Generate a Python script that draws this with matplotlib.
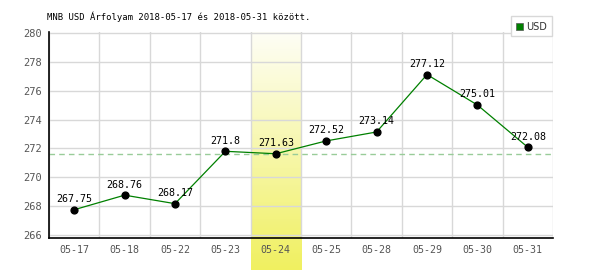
import matplotlib
matplotlib.use("Agg")
import matplotlib.pyplot as plt
import numpy as np
from matplotlib.colors import LinearSegmentedColormap
from matplotlib.patches import Rectangle

dates = ["05-17", "05-18", "05-22", "05-23", "05-24", "05-25", "05-28", "05-29", "05-30", "05-31"]
values = [267.75, 268.76, 268.17, 271.8, 271.63, 272.52, 273.14, 277.12, 275.01, 272.08]
labels = ["267.75", "268.76", "268.17", "271.8", "271.63", "272.52", "273.14", "277.12", "275.01", "272.08"]
yticks = [266, 268, 270, 272, 274, 276, 278, 280]
highlight = 4
title = "MNB USD Árfolyam 2018-05-17 és 2018-05-31 között."

W, H = 600, 270
fig = plt.figure(figsize=(W/100, H/100), dpi=100)
ax = fig.add_axes([49/W, 1-238/H, 504/W, 206/H])
ymin, ymax = 265.79, 280.07
ax.set_xlim(-0.5, len(dates)-0.5)
ax.set_ylim(ymin, ymax)

# highlight gradient (extends below axis)
cmap = LinearSegmentedColormap.from_list("hl", ["#fefef6", "#f0f060"])
grad = np.linspace(0, 1, 256).reshape(-1, 1)
bottom_ext = ymin - (270-238)/206*(ymax-ymin)
ax.imshow(grad, cmap=cmap, aspect="auto",
          extent=[highlight-0.5, highlight+0.5, bottom_ext, ymax],
          origin="upper", zorder=0, clip_on=False)

for i in range(len(dates)+1):
    ax.axvline(i-0.5, color="#d8d8d8", lw=1, zorder=1)
for y in yticks:
    ax.axhline(y, color="#d8d8d8", lw=1, zorder=1)

ax.axhline(values[highlight], color="#99cc99", lw=1, ls=(0, (4, 3)), zorder=2)

x = np.arange(len(dates))
ax.plot(x, values, color="#008000", lw=0.9, zorder=3)
ax.scatter(x, values, s=24, color="black", zorder=4)
for xi, v, t in zip(x, values, labels):
    ax.annotate(t, (xi, v), xytext=(0, 4), textcoords="offset points",
                ha="center", va="bottom", fontsize=7.2, family="DejaVu Sans Mono", color="black", zorder=5)

for s in ["top", "right"]:
    ax.spines[s].set_visible(False)
ax.spines["left"].set_color("black")
ax.spines["bottom"].set_color("black")
ax.spines["left"].set_linewidth(1.2)
ax.spines["bottom"].set_linewidth(1.2)

ax.set_xticks(x)
ax.set_xticklabels(dates, family="DejaVu Sans Mono", fontsize=7.2, color="#555555")
ax.set_yticks(yticks)
ax.set_yticklabels([str(v) for v in yticks], family="DejaVu Sans Mono", fontsize=7.5, color="#555555")
ax.tick_params(length=0, pad=5)

fig.text(47/W, 1-17/H, title, family="DejaVu Sans Mono", fontsize=6.4, color="black", va="center", ha="left")

# legend box
fig.patches.append(Rectangle((511/W, 1-36/H), 41/W, 20/H, transform=fig.transFigure,
                             facecolor="white", edgecolor="#d8d8d8", lw=1))
fig.patches.append(Rectangle((516/W, 1-30/H), 7/W, 7/H, transform=fig.transFigure,
                             facecolor="#008000", edgecolor="#555555", lw=0.5))
fig.text(526/W, 1-26.5/H, "USD", fontsize=7, color="#333333", va="center", ha="left")

fig.savefig("out.png", dpi=100)
